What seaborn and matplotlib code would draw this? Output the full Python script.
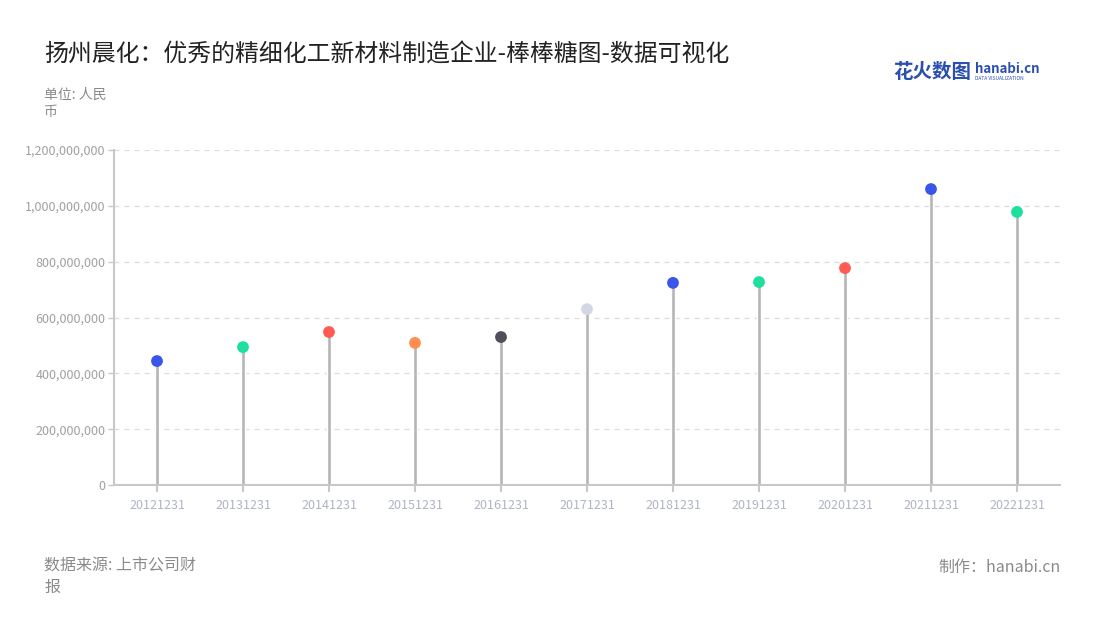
import matplotlib
matplotlib.use("Agg")
import matplotlib.pyplot as plt
import seaborn as sns
import pandas as pd
from matplotlib.ticker import FuncFormatter, MultipleLocator

dates = ["20121231", "20131231", "20141231", "20151231", "20161231", "20171231",
         "20181231", "20191231", "20201231", "20211231", "20221231"]
values = [444e6, 494e6, 548e6, 509e6, 530e6, 630e6, 724e6, 727e6, 777e6, 1060e6, 978e6]
dot_colors = ["#3a56e8", "#1ddf9f", "#ff5b52", "#ff8e4f", "#4f4f59", "#d3d7e3",
              "#3a56e8", "#1ddf9f", "#ff5b52", "#3a56e8", "#1ddf9f"]

title = "扬州晨化：优秀的精细化工新材料制造企业-棒棒糖图-数据可视化"
unit_label = "单位: 人民\n币"
source_label = "数据来源: 上市公司财\n报"
maker_label = "制作：hanabi.cn"

df = pd.DataFrame({"date": dates, "value": values})

sns.set_theme(style="white")
plt.rcParams['font.family'] = ['Noto Sans CJK SC', 'DejaVu Sans']

fig = plt.figure(figsize=(11, 6.2), dpi=100)
ax = fig.add_axes([114/1100, 1 - 485/620, (1060-114)/1100, (485-150)/620])

sns.barplot(data=df, x="date", y="value", color="#b5b5b5", width=0.05,
            saturation=1, ax=ax, zorder=2)
sns.scatterplot(data=df, x="date", y="value", hue="date", palette=dot_colors,
                s=72, edgecolor="none", legend=False, ax=ax, zorder=3)

ax.set_xlim(-0.5, len(dates) - 0.5)
ax.set_ylim(0, 1.2e9)
ax.yaxis.set_major_locator(MultipleLocator(2e8))
ax.yaxis.set_major_formatter(FuncFormatter(lambda v, p: f"{int(v):,}"))
ax.grid(axis="y", color="#dcdcdc", linestyle=(0, (4, 4)), linewidth=0.9, zorder=0)
ax.set_axisbelow(True)
ax.set_xlabel("")
ax.set_ylabel("")
for s in ["top", "right"]:
    ax.spines[s].set_visible(False)
for s in ["left", "bottom"]:
    ax.spines[s].set_color("#c8c8c8")
    ax.spines[s].set_linewidth(1.5)
ax.tick_params(axis="y", colors="#c8c8c8", labelcolor="#a0a0a0", labelsize=9,
               length=4.5, width=1, left=True, pad=1.5)
ax.tick_params(axis="x", colors="#c8c8c8", labelcolor="#b0b4c4", labelsize=9,
               length=5, width=1.5, bottom=True, pad=5)

fig.text(44/1100, 1 - 55/620, title, fontsize=17.2, color="#222222", va="center", ha="left")
fig.text(44/1100, 1 - 88/620, unit_label, fontsize=10, color="#8a8a8a", va="top",
         ha="left", linespacing=1.25)
fig.text(44/1100, 1 - 557/620, source_label, fontsize=11.5, color="#8a8a8a", va="top",
         ha="left", linespacing=1.35)
fig.text(1061/1100, 1 - 567/620, maker_label, fontsize=11.5, color="#8a8a8a", va="center",
         ha="right")

# logo
fig.text(893/1100, 1 - 72/620, "花火数图", fontsize=14, color="#2a4fb0", va="center",
         ha="left", fontweight="bold")
fig.text(975/1100, 1 - 69/620, "hanabi.cn", fontsize=9.5, color="#2a4fb0", va="center",
         ha="left", fontweight="bold")
fig.text(975/1100, 1 - 79/620, "DATA VISUALIZATION", fontsize=3.5, color="#2a4fb0",
         va="center", ha="left")

fig.savefig("out.png", dpi=100)
